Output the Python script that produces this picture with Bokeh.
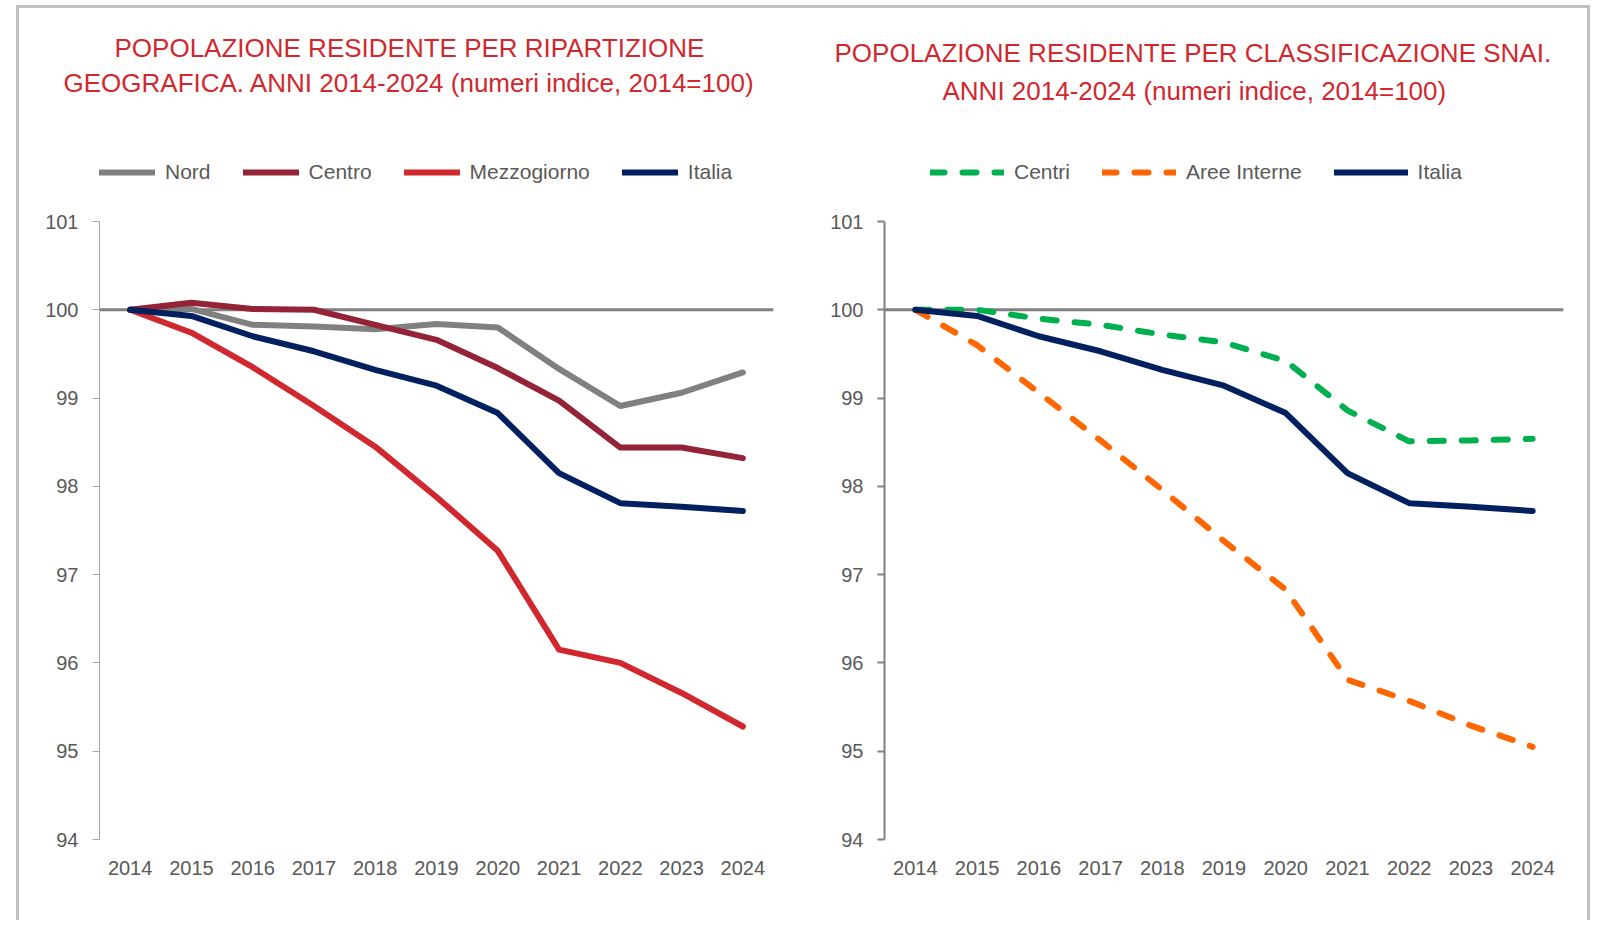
from bokeh.plotting import figure
from bokeh.models import Range1d, FactorRange, Span, Legend, LegendItem, Title, Div
from bokeh.layouts import row, column
from bokeh.embed import file_html
from bokeh.resources import INLINE

years = ["2014", "2015", "2016", "2017", "2018", "2019", "2020", "2021", "2022", "2023", "2024"]
y_ticks = [94, 95, 96, 97, 98, 99, 100, 101]

nord = [100, 100.01, 99.83, 99.81, 99.78, 99.84, 99.80, 99.33, 98.91, 99.06, 99.29]
centro = [100, 100.08, 100.01, 100.0, 99.83, 99.66, 99.34, 98.97, 98.44, 98.44, 98.32]
mezzogiorno = [100, 99.74, 99.35, 98.91, 98.45, 97.88, 97.27, 96.15, 96.0, 95.66, 95.28]
italia = [100, 99.93, 99.70, 99.53, 99.32, 99.14, 98.83, 98.15, 97.81, 97.77, 97.72]
centri = [100, 100.0, 99.90, 99.83, 99.72, 99.63, 99.42, 98.86, 98.51, 98.52, 98.54]
aree_interne = [100, 99.60, 99.06, 98.52, 97.96, 97.38, 96.83, 95.81, 95.57, 95.29, 95.05]

title_left = ["POPOLAZIONE RESIDENTE PER RIPARTIZIONE",
              "GEOGRAFICA. ANNI 2014-2024 (numeri indice, 2014=100)"]
title_right = ["POPOLAZIONE RESIDENTE PER CLASSIFICAZIONE SNAI.",
               "ANNI 2014-2024 (numeri indice, 2014=100)"]

FONT = "Liberation Sans"
TXT = "#595959"
RED_T = "#D0282E"
BORDER = "#bfbfbf"

# vertical layout (pixels): figure top at 8, frame top at 112, frame bottom at 839, 101 at 221
FIG_TOP = 8
FIG_H = 912
FRAME_TOP, FRAME_BOTTOM, Y101 = 112, 839, 221
PX_PER_UNIT = (FRAME_BOTTOM - Y101) / 7.0
Y_TOP = 94 + (FRAME_BOTTOM - FRAME_TOP) / PX_PER_UNIT


def make_fig(width, mb_left, mb_right, axis_color, axis_width):
    p = figure(x_range=FactorRange(*years), y_range=Range1d(94, Y_TOP),
               width=width, height=FIG_H, output_backend="svg", toolbar_location=None,
               min_border_left=mb_left, min_border_right=mb_right,
               min_border_top=FRAME_TOP - FIG_TOP,
               min_border_bottom=FIG_TOP + FIG_H - FRAME_BOTTOM)
    p.title.visible = False
    p.outline_line_color = None
    p.xgrid.visible = False
    p.ygrid.visible = False
    p.yaxis.ticker = y_ticks
    p.yaxis.bounds = (94, 101)
    p.yaxis.axis_line_color = axis_color
    p.yaxis.axis_line_width = axis_width
    p.yaxis.major_tick_line_color = axis_color
    p.yaxis.major_tick_line_width = axis_width
    p.yaxis.major_tick_out = 7
    p.yaxis.major_tick_in = 0
    p.yaxis.minor_tick_line_color = None
    p.yaxis.major_label_standoff = 14
    p.xaxis.axis_line_color = None
    p.xaxis.major_tick_line_color = None
    p.xaxis.minor_tick_line_color = None
    p.xaxis.major_label_standoff = 15
    for ax in (p.xaxis, p.yaxis):
        ax.major_label_text_font = FONT
        ax.major_label_text_font_size = "20px"
        ax.major_label_text_color = TXT
    p.add_layout(Span(location=100, dimension="width", line_color="#808080",
                      line_width=3, level="underlay"))
    return p


def add_legend(p, items, glyph_width, x_off):
    lg = Legend(items=items, orientation="horizontal",
                location=(x_off, FRAME_BOTTOM - 184),
                label_text_font=FONT, label_text_font_size="21px",
                label_text_color=TXT, glyph_width=glyph_width, glyph_height=24,
                label_standoff=10, spacing=32, border_line_color=None,
                background_fill_alpha=0, padding=0, margin=0)
    p.add_layout(lg, "center")


def add_titles(p, lines, offsets, standoffs):
    # added from the frame outward: second line first
    for txt, off, so in reversed(list(zip(lines, offsets, standoffs))):
        p.add_layout(Title(text=txt, align="left", offset=off, standoff=so,
                           text_font=FONT, text_font_size="26px",
                           text_font_style="normal", text_color=RED_T), "above")


kw = dict(line_width=6, line_cap="round", line_join="round")

# Left chart
p1 = make_fig(781, 80, 27, "#a6a6a6", 1)
r_n = p1.line(years, nord, line_color="#808080", **kw)
r_c = p1.line(years, centro, line_color="#952337", **kw)
r_m = p1.line(years, mezzogiorno, line_color="#D0282E", **kw)
r_i = p1.line(years, italia, line_color="#002060", **kw)
add_legend(p1, [LegendItem(label="Nord", renderers=[r_n]),
                LegendItem(label="Centro", renderers=[r_c]),
                LegendItem(label="Mezzogiorno", renderers=[r_m]),
                LegendItem(label="Italia", renderers=[r_i])], 56, 0)
add_titles(p1, title_left, [15, -36], [-22, 29])

# Right chart
p2 = make_fig(787, 84, 24, "#808080", 2)
r_ce = p2.line(years, centri, line_color="#00B050", line_dash="14 18", **kw)
r_ai = p2.line(years, aree_interne, line_color="#FF6600", line_dash="14 18", **kw)
r_i2 = p2.line(years, italia, line_color="#002060", **kw)
add_legend(p2, [LegendItem(label="Centri", renderers=[r_ce]),
                LegendItem(label="Aree Interne", renderers=[r_ai]),
                LegendItem(label="Italia", renderers=[r_i2])], 74, 46)
add_titles(p2, title_right, [-50, 58], [0, 13])

vbar_l = Div(width=3, height=FIG_H + 3, margin=0, styles={"background-color": BORDER})
vbar_r = Div(width=3, height=FIG_H + 3, margin=0, styles={"background-color": BORDER})
hbar = Div(width=781 + 787, height=3, margin=0, styles={"background-color": BORDER})

layout = row(vbar_l, column(hbar, row(p1, p2, margin=0), margin=0), vbar_r,
             margin=(5, 0, 0, 16))

open("out.html", "w").write(file_html(layout, INLINE))
